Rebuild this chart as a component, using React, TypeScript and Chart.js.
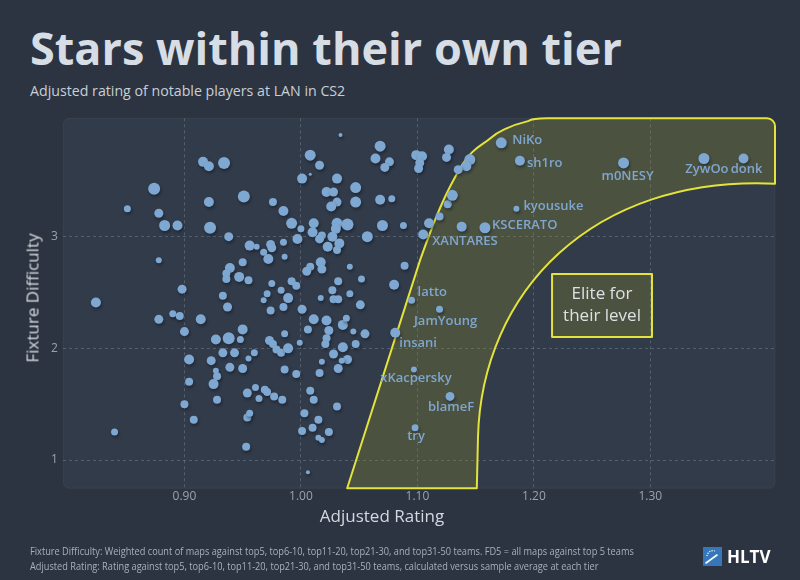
import React, { useEffect, useRef } from "react";
import { Chart, registerables } from "chart.js";

Chart.register(...registerables);

const FONT = '"Open Sans", "Noto Sans", sans-serif';

// ---- Data: all players (Adjusted Rating, Fixture Difficulty, maps played) ----
const ratings = [
  0.916, 0.921, 0.934, 0.874, 0.851, 0.878, 0.883, 0.894, 0.921, 0.951,
  0.922, 0.938, 0.956, 0.962, 0.878, 0.950, 0.939, 0.936, 0.936, 0.947,
  0.955, 0.898, 0.933, 0.937, 0.824, 0.878, 0.890, 0.896, 0.914, 0.900,
  0.927, 0.938, 0.950, 0.948, 0.904, 0.923, 0.933, 0.943, 0.960, 0.955,
  0.927, 0.928, 0.939, 0.950, 0.904, 0.925, 0.928, 0.954, 0.961, 0.964,
  0.900, 0.908, 0.954, 0.956, 0.953, 0.840, 1.034, 1.068, 1.064, 1.076,
  1.072, 1.099, 1.104, 1.102, 1.101, 1.008, 1.016, 1.008, 1.001, 1.031,
  1.047, 1.022, 1.028, 1.031, 1.026, 1.047, 1.068, 1.078, 0.976, 0.985,
  0.992, 1.000, 1.011, 1.010, 1.031, 1.030, 1.040, 1.027, 1.018, 1.016,
  0.997, 1.057, 1.070, 1.088, 1.110, 1.119, 0.974, 0.975, 0.985, 0.968,
  0.972, 0.986, 1.023, 1.033, 1.031, 1.008, 1.005, 1.017, 1.018, 1.042,
  1.089, 0.975, 0.992, 0.996, 1.032, 1.052, 1.080, 0.971, 0.983, 1.027,
  1.042, 0.989, 0.968, 1.017, 1.028, 1.032, 0.985, 1.001, 1.051, 0.974,
  1.011, 1.022, 1.036, 1.039, 1.006, 1.024, 1.045, 1.055, 0.986, 0.973,
  0.976, 0.979, 0.983, 0.989, 0.999, 1.022, 1.021, 1.036, 1.047, 1.028,
  1.040, 1.035, 1.018, 1.032, 1.016, 0.996, 0.986, 0.969, 0.971, 0.977,
  0.984, 1.008, 1.011, 1.031, 1.003, 1.015, 1.010, 1.001, 1.024, 1.015,
  1.018, 1.006, 1.138, 1.126, 1.130, 1.145, 1.142, 1.135, 1.127, 1.125,
];
const difficulty = [
  3.67, 3.63, 3.66, 3.43, 3.25, 3.21, 3.10, 3.10, 3.31, 3.36,
  3.08, 3.00, 2.92, 2.91, 2.79, 2.77, 2.72, 2.67, 2.62, 2.64,
  2.61, 2.53, 2.47, 2.37, 2.41, 2.26, 2.31, 2.29, 2.26, 2.15,
  2.08, 2.09, 2.17, 2.08, 1.90, 1.89, 1.96, 1.96, 1.96, 1.91,
  1.80, 1.75, 1.83, 1.82, 1.70, 1.68, 1.54, 1.60, 1.65, 1.55,
  1.50, 1.36, 1.38, 1.42, 1.12, 1.25, 3.91, 3.81, 3.70, 3.67,
  3.62, 3.73, 3.72, 3.66, 3.61, 3.73, 3.64, 3.56, 3.52, 3.52,
  3.44, 3.40, 3.40, 3.31, 3.27, 3.31, 3.33, 3.34, 3.31, 3.23,
  3.12, 3.07, 3.12, 3.04, 3.12, 3.07, 3.11, 3.00, 3.01, 2.98,
  2.98, 3.00, 3.10, 3.10, 3.12, 3.18, 2.93, 2.90, 2.95, 2.86,
  2.80, 2.82, 2.91, 2.94, 2.88, 2.73, 2.69, 2.77, 2.71, 2.73,
  2.74, 2.58, 2.60, 2.56, 2.60, 2.62, 2.57, 2.49, 2.52, 2.52,
  2.49, 2.45, 2.43, 2.45, 2.44, 2.44, 2.37, 2.35, 2.39, 2.34,
  2.26, 2.25, 2.21, 2.27, 2.17, 2.16, 2.15, 2.13, 2.13, 2.07,
  2.04, 1.99, 1.96, 2.00, 2.05, 2.09, 2.04, 2.01, 2.04, 1.95,
  1.90, 1.89, 1.88, 1.82, 1.78, 1.77, 1.81, 1.63, 1.61, 1.57,
  1.54, 1.62, 1.54, 1.48, 1.42, 1.36, 1.29, 1.26, 1.25, 1.20,
  1.18, 0.89, 3.09, 3.29, 3.37, 3.69, 3.63, 3.60, 3.78, 3.71,
];
const mapsPlayed = [
  100, 100, 144, 144, 49, 81, 121, 100, 100, 144,
  144, 81, 100, 36, 36, 64, 100, 64, 64, 100,
  64, 81, 64, 81, 100, 81, 49, 64, 100, 81,
  100, 144, 100, 49, 100, 81, 81, 81, 49, 36,
  36, 64, 81, 81, 64, 100, 64, 81, 49, 49,
  64, 64, 64, 49, 64, 49, 16, 121, 100, 81,
  81, 100, 100, 81, 81, 121, 81, 9, 100, 100,
  121, 100, 81, 81, 100, 121, 100, 49, 64, 100,
  121, 49, 100, 100, 121, 100, 144, 100, 64, 81,
  100, 121, 121, 49, 100, 64, 81, 81, 49, 49,
  100, 36, 100, 100, 64, 64, 81, 100, 81, 36,
  64, 49, 64, 64, 64, 49, 100, 49, 49, 64,
  49, 100, 36, 36, 64, 64, 64, 81, 81, 64,
  100, 100, 100, 49, 64, 81, 36, 81, 49, 81,
  64, 64, 64, 100, 36, 64, 64, 100, 64, 81,
  81, 36, 36, 81, 64, 64, 64, 64, 64, 64,
  64, 64, 64, 64, 64, 64, 64, 64, 64, 36,
  36, 16, 100, 64, 121, 121, 100, 81, 100, 81,
];

// ---- Data: named standout players ----
const starNames = ["NiKo", "sh1ro", "m0NESY", "ZywOo", "donk", "kyousuke", "KSCERATO", "XANTARES", "latto", "JamYoung", "insani", "xKacpersky", "blameF", "try"];
const starRatings = [1.172, 1.188, 1.277, 1.346, 1.380, 1.185, 1.158, 1.105, 1.095, 1.119, 1.081, 1.097, 1.128, 1.098];
const starDifficulty = [3.84, 3.68, 3.66, 3.70, 3.70, 3.25, 3.08, 3.02, 2.43, 2.35, 2.14, 1.81, 1.57, 1.29];
const starMaps = [121, 100, 121, 121, 100, 36, 121, 100, 49, 49, 100, 36, 81, 49];

// label placement (pixel offsets from the point) – styling only
const starLabelPlacement: { dx: number; dy: number; align: CanvasTextAlign }[] = [
  { dx: 11, dy: -3, align: "left" },
  { dx: 7, dy: 3, align: "left" },
  { dx: 4, dy: 13, align: "center" },
  { dx: 3, dy: 11, align: "center" },
  { dx: 3, dy: 11, align: "center" },
  { dx: 7, dy: -2, align: "left" },
  { dx: 7, dy: -2, align: "left" },
  { dx: 9, dy: 7, align: "left" },
  { dx: 6, dy: -8, align: "left" },
  { dx: 6, dy: 12, align: "center" },
  { dx: 4, dy: 11, align: "left" },
  { dx: 2, dy: 9, align: "center" },
  { dx: 1, dy: 11, align: "center" },
  { dx: 1, dy: 9, align: "center" },
];

// ---- Axes ----
const X_MIN = 0.796;
const X_MAX = 1.407;
const Y_MIN = 0.747;
const Y_MAX = 4.06;
const xTickValues = [0.9, 1.0, 1.1, 1.2, 1.3];
const yTickValues = [1, 2, 3];

// ---- "Elite" band outline in data space ----
const bandLeftEdge: [number, number][] = [
  [1.0397, Y_MIN], [1.1023, 2.79], [1.1365, 3.61], [1.1624, 3.88],
  [1.1766, 3.97], [1.1934, 4.03], [1.2111, Y_MAX], [1.30, Y_MAX],
];
const bandCorner: [number, number] = [1.407, Y_MAX];
// inner edge: start, two bezier controls, end, then foot on the x-axis floor
const bandInnerEdge: [number, number][] = [
  [1.407, 3.475], [1.25, 3.55], [1.155, 2.5], [1.152, 1.2], [1.151, Y_MIN],
];
const eliteBox = { x0: 1.2156, x1: 1.3014, y0: 2.101, y1: 2.665 };
const eliteText = ["Elite for", "their level"];

const COLORS = {
  page: "#2c3441",
  plot: "#323b4a",
  point: "#7ea8d1",
  label: "#7fa6cf",
  bandFill: "rgba(140,140,40,0.29)",
  bandStroke: "#e3e33b",
  grid: "rgba(150,160,175,0.35)",
  tick: "#9aa3ad",
};

function splineThrough(ctx: CanvasRenderingContext2D, pts: { x: number; y: number }[]) {
  for (let i = 1; i < pts.length - 2; i++) {
    const p0 = pts[i - 1], p1 = pts[i], p2 = pts[i + 1], p3 = pts[i + 2];
    ctx.bezierCurveTo(
      p1.x + (p2.x - p0.x) / 6, p1.y + (p2.y - p0.y) / 6,
      p2.x - (p3.x - p1.x) / 6, p2.y - (p3.y - p1.y) / 6,
      p2.x, p2.y
    );
  }
}

const decorPlugin = {
  id: "decor",
  beforeDraw(chart: any) {
    const { ctx, chartArea: a } = chart;
    ctx.save();
    ctx.beginPath();
    ctx.roundRect(a.left, a.top, a.right - a.left, a.bottom - a.top, 6);
    ctx.fillStyle = COLORS.plot;
    ctx.fill();
    ctx.strokeStyle = "rgba(255,255,255,0.05)";
    ctx.lineWidth = 1;
    ctx.stroke();
    ctx.restore();
  },
  beforeDatasetsDraw(chart: any) {
    const { ctx } = chart;
    const xs = chart.scales.x, ys = chart.scales.y;
    const toPx = (p: [number, number]) => ({ x: xs.getPixelForValue(p[0]), y: ys.getPixelForValue(p[1]) });
    const L = bandLeftEdge.map(toPx);
    const I = bandInnerEdge.map(toPx);
    const c = toPx(bandCorner);
    ctx.save();
    ctx.beginPath();
    ctx.moveTo(L[0].x, L[0].y);
    ctx.lineTo(L[1].x, L[1].y);
    splineThrough(ctx, L);
    ctx.arcTo(c.x, c.y, c.x, I[0].y, 8);
    ctx.lineTo(I[0].x, I[0].y);
    ctx.bezierCurveTo(I[1].x, I[1].y, I[2].x, I[2].y, I[3].x, I[3].y);
    ctx.lineTo(I[4].x, I[4].y);
    ctx.closePath();
    ctx.fillStyle = COLORS.bandFill;
    ctx.fill();
    ctx.lineWidth = 2;
    ctx.lineJoin = "round";
    ctx.strokeStyle = COLORS.bandStroke;
    ctx.stroke();

    // Elite box
    const bx0 = xs.getPixelForValue(eliteBox.x0), bx1 = xs.getPixelForValue(eliteBox.x1);
    const by0 = ys.getPixelForValue(eliteBox.y1), by1 = ys.getPixelForValue(eliteBox.y0);
    ctx.beginPath();
    ctx.rect(bx0, by0, bx1 - bx0, by1 - by0);
    ctx.fillStyle = COLORS.bandFill;
    ctx.fill();
    ctx.lineWidth = 2;
    ctx.strokeStyle = COLORS.bandStroke;
    ctx.stroke();
    ctx.fillStyle = "#dde0e4";
    ctx.font = `400 17px ${FONT}`;
    ctx.textAlign = "center";
    ctx.textBaseline = "middle";
    const cx = (bx0 + bx1) / 2, cy = (by0 + by1) / 2;
    ctx.fillText(eliteText[0], cx, cy - 11);
    ctx.fillText(eliteText[1], cx, cy + 11);
    ctx.restore();
  },
  beforeDatasetDraw(chart: any) {
    const ctx = chart.ctx;
    ctx.save();
    ctx.shadowColor = "rgba(10,15,25,0.45)";
    ctx.shadowBlur = 3;
    ctx.shadowOffsetX = 1;
    ctx.shadowOffsetY = 2;
  },
  afterDatasetDraw(chart: any) {
    chart.ctx.restore();
  },
  afterDatasetsDraw(chart: any) {
    const { ctx } = chart;
    const xs = chart.scales.x, ys = chart.scales.y;
    ctx.save();
    ctx.font = `600 13px ${FONT}`;
    ctx.fillStyle = COLORS.label;
    ctx.textBaseline = "middle";
    starNames.forEach((name, i) => {
      const px = xs.getPixelForValue(starRatings[i]);
      const py = ys.getPixelForValue(starDifficulty[i]);
      const p = starLabelPlacement[i];
      ctx.textAlign = p.align;
      ctx.fillText(name, px + p.dx, py + p.dy);
    });
    ctx.restore();
  },
};

function HltvIcon() {
  return (
    <svg width="19" height="19" viewBox="0 0 19 19" style={{ position: "absolute", left: 703, top: 547 }}>
      <rect x="0" y="0" width="19" height="19" fill="#3577b8" />
      <path d="M4 9 A6 6 0 0 1 12 4" stroke="#ffffff" strokeWidth="1.2" fill="none" strokeDasharray="1.2 1.2" />
      <path d="M3 16 L14 8" stroke="#ffffff" strokeWidth="1.6" strokeLinecap="round" />
    </svg>
  );
}

export default function App() {
  const canvasRef = useRef<HTMLCanvasElement | null>(null);

  useEffect(() => {
    document.body.style.margin = "0";
    document.body.style.background = COLORS.page;
    const canvas = canvasRef.current;
    if (!canvas) return;
    const chart = new Chart(canvas, {
      type: "scatter",
      data: {
        datasets: [
          {
            data: ratings.map((x, i) => ({ x, y: difficulty[i] })),
            pointRadius: mapsPlayed.map((m) => Math.sqrt(m) / 2),
            pointHoverRadius: mapsPlayed.map((m) => Math.sqrt(m) / 2),
            backgroundColor: COLORS.point,
            borderWidth: 0,
            clip: false as any,
          },
          {
            data: starRatings.map((x, i) => ({ x, y: starDifficulty[i] })),
            pointRadius: starMaps.map((m) => Math.sqrt(m) / 2),
            pointHoverRadius: starMaps.map((m) => Math.sqrt(m) / 2),
            backgroundColor: COLORS.point,
            borderWidth: 0,
            clip: false as any,
          },
        ],
      },
      options: {
        responsive: false,
        animation: false,
        events: [],
        layout: { padding: { left: 20, top: 118.3, right: 25, bottom: 60 } },
        plugins: {
          legend: { display: false },
          tooltip: { enabled: false },
          title: { display: false },
        },
        scales: {
          x: {
            type: "linear",
            min: X_MIN,
            max: X_MAX,
            afterBuildTicks: (scale: any) => {
              scale.ticks = xTickValues.map((value) => ({ value }));
            },
            afterFit: (scale: any) => {
              scale.height = 31.7;
            },
            ticks: {
              callback: (v: any) => Number(v).toFixed(2),
              color: COLORS.tick,
              font: { family: FONT, size: 12 },
              padding: 1,
            },
            grid: { color: COLORS.grid, drawTicks: false, lineWidth: 1 },
            border: { display: false, dash: [3, 3] },
          },
          y: {
            type: "linear",
            min: Y_MIN,
            max: Y_MAX,
            afterBuildTicks: (scale: any) => {
              scale.ticks = yTickValues.map((value) => ({ value }));
            },
            afterFit: (scale: any) => {
              scale.width = 43.3;
            },
            ticks: {
              callback: (v: any) => String(v),
              color: COLORS.tick,
              font: { family: FONT, size: 12 },
              padding: 5.5,
            },
            grid: { color: COLORS.grid, drawTicks: false, lineWidth: 1 },
            border: { display: false, dash: [3, 3] },
          },
        },
      },
      plugins: [decorPlugin],
    } as any);
    return () => chart.destroy();
  }, []);

  const footStyle: React.CSSProperties = {
    position: "absolute",
    left: 30,
    fontFamily: FONT,
    fontSize: 10,
    lineHeight: "10px",
    color: "#a7b0ba",
    whiteSpace: "nowrap",
    transform: "scaleX(0.92)",
    transformOrigin: "0 0",
  };

  return (
    <div
      style={{
        position: "absolute",
        left: 0,
        top: 0,
        width: 800,
        height: 580,
        background: COLORS.page,
        overflow: "hidden",
        fontFamily: FONT,
      }}
    >
      <div style={{ position: "absolute", left: 30, top: 25, fontSize: 45, lineHeight: "45px", fontWeight: 700, color: "#d6dde5", whiteSpace: "nowrap" }}>
        Stars within their own tier
      </div>
      <div style={{ position: "absolute", left: 30, top: 83.6, fontSize: 14.2, lineHeight: "14px", color: "#c9cfd6", whiteSpace: "nowrap" }}>
        Adjusted rating of notable players at LAN in CS2
      </div>
      <canvas ref={canvasRef} width={800} height={580} style={{ position: "absolute", left: 0, top: 0, width: 800, height: 580 }} />
      <div style={{ position: "absolute", left: 382, top: 515, transform: "translate(-50%,-50%)", fontSize: 17, lineHeight: "17px", color: "#d2d8de", whiteSpace: "nowrap" }}>
        Adjusted Rating
      </div>
      <div style={{ position: "absolute", left: 31.5, top: 297.5, transform: "translate(-50%,-50%) rotate(-90deg)", fontSize: 17, lineHeight: "17px", color: "#d2d8de", whiteSpace: "nowrap" }}>
        Fixture Difficulty
      </div>
      <div style={{ ...footStyle, top: 545.6 }}>
        Fixture Difficulty: Weighted count of maps against top5, top6-10, top11-20, top21-30, and top31-50 teams. FD5 = all maps against top 5 teams
      </div>
      <div style={{ ...footStyle, top: 560.6 }}>
        Adjusted Rating: Rating against top5, top6-10, top11-20, top21-30, and top31-50 teams, calculated versus sample average at each tier
      </div>
      <HltvIcon />
      <div style={{ position: "absolute", left: 727, top: 546, fontSize: 17, lineHeight: "21px", fontWeight: 700, color: "#ffffff", whiteSpace: "nowrap" }}>
        HLTV
      </div>
    </div>
  );
}
